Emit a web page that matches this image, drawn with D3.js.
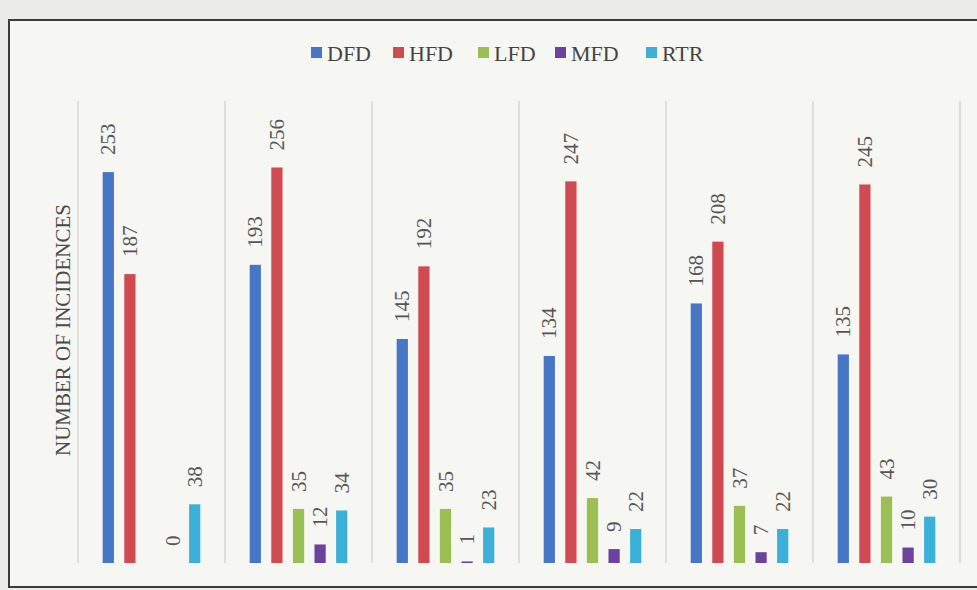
<!DOCTYPE html>
<html><head><meta charset="utf-8">
<script src="https://cdn.jsdelivr.net/npm/d3@7"></script>
<style>
html,body{margin:0;padding:0;background:#f2f2ef;}
svg{display:block;}
</style></head>
<body>
<svg id="c" width="977" height="590"></svg>
<script>
// Data
const categories = ["2015","2016","2017","2018","2019","2020"];
const series = ["DFD","HFD","LFD","MFD","RTR"];
const DFD = [253,193,145,134,168,135];
const HFD = [187,256,192,247,208,245];
const LFD = [null,35,35,42,37,43];
const MFD = [0,12,1,9,7,10];
const RTR = [38,34,23,22,22,30];
const colors = ["#4676c6","#d04a52","#9bbf52","#6c429e","#3cb0d8"];
const yTitle = "NUMBER OF INCIDENCES";

const values = {DFD,HFD,LFD,MFD,RTR};
const svg = d3.select("#c");
const font = "'Liberation Serif', 'DejaVu Serif', serif";

// frame
svg.append("rect").attr("x",0).attr("y",0).attr("width",977).attr("height",590).attr("fill","#ecece8");
svg.append("rect").attr("x",9).attr("y",20).attr("width",990).attr("height",567)
  .attr("fill","#f6f6f3").attr("stroke","#3a3a3a").attr("stroke-width",2);

const base = 563;
const x = d3.scaleBand().domain(categories).range([78,960]).padding(0);
const xs = d3.scaleBand().domain(series).range([19.5, x.bandwidth()-19.5]).paddingInner(0.48).paddingOuter(0.24);
const y = d3.scaleLinear().domain([0,280]).range([base, base-280*1.545]);

// category separators
const bounds = categories.map(c=>x(c)).concat([x(categories[categories.length-1])+x.bandwidth()]);
svg.append("g").selectAll("line").data(bounds).join("line")
  .attr("x1",d=>d).attr("x2",d=>d).attr("y1",101).attr("y2",base)
  .attr("stroke","#cfcfcc").attr("stroke-width",1.2);

// bars
const data = [];
categories.forEach((c,i)=>series.forEach((s,j)=>{
  data.push({c, s, j, v: values[s][i]});
}));
const g = svg.append("g");
g.selectAll("rect").data(data.filter(d=>d.v!==null)).join("rect")
  .attr("x",d=>x(d.c)+xs(d.s)).attr("width",xs.bandwidth())
  .attr("y",d=>y(d.v)).attr("height",d=>base-y(d.v))
  .attr("fill",d=>colors[d.j]);

// labels
g.selectAll("text").data(data.filter(d=>d.v!==null)).join("text")
  .attr("transform",d=>`translate(${x(d.c)+xs(d.s)+xs.bandwidth()/2+7},${y(d.v)-17}) rotate(-90)`)
  .attr("text-anchor","start")
  .attr("font-family",font).attr("font-size",21).attr("fill","#555")
  .text(d=>d.v);

// y title
svg.append("text")
  .attr("transform","translate(70,330) rotate(-90)")
  .attr("text-anchor","middle")
  .attr("font-family",font).attr("font-size",21).attr("fill","#4a4a4a")
  .text(yTitle);

// legend
const legX = [311,393,478,555,646];
const lg = svg.append("g").selectAll("g").data(series).join("g")
  .attr("transform",(d,i)=>`translate(${legX[i]},0)`);
lg.append("rect").attr("x",0).attr("y",47).attr("width",11).attr("height",11)
  .attr("fill",(d,i)=>colors[i]);
lg.append("text").attr("x",16).attr("y",61)
  .attr("font-family",font).attr("font-size",22).attr("fill","#444")
  .text(d=>d);
</script>
</body></html>
